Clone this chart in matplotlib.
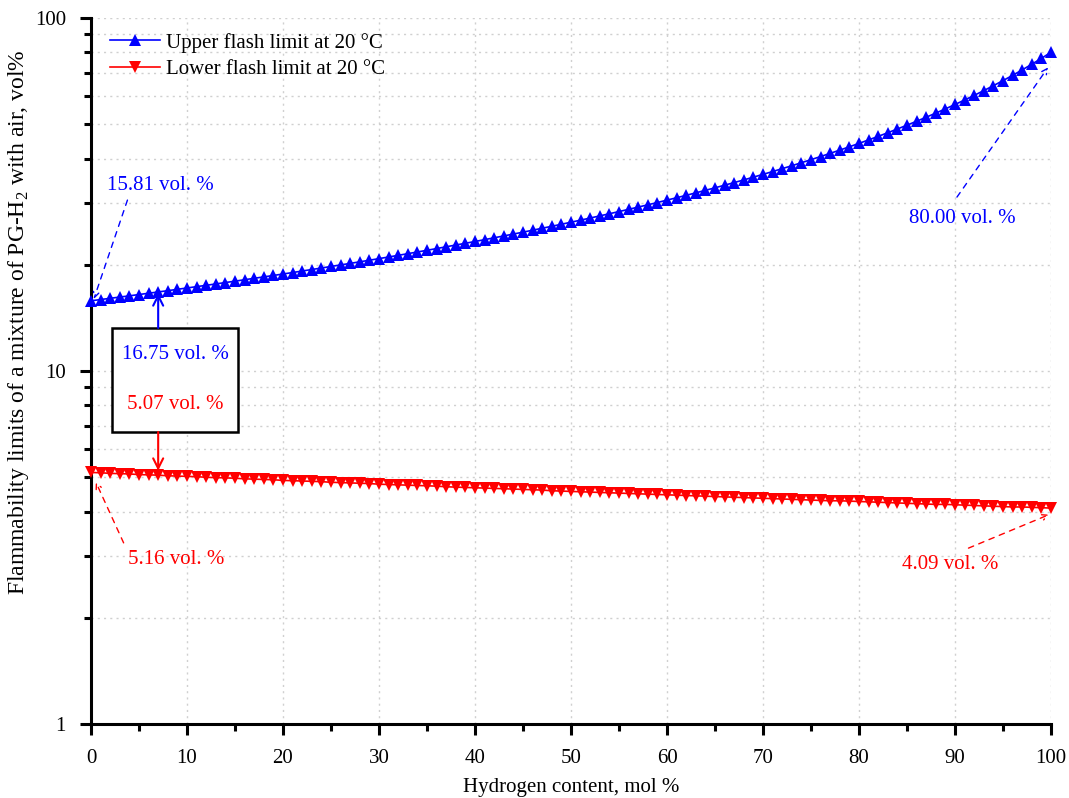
#!/usr/bin/env python3
"""Flammability limits of PG-H2 / air mixtures vs hydrogen content."""

import matplotlib
matplotlib.use('Agg')
import matplotlib.pyplot as plt
import matplotlib.patches as patches
from matplotlib.ticker import FixedLocator, FixedFormatter, MultipleLocator, NullFormatter

plt.rcParams['font.family'] = ['Liberation Serif', 'DejaVu Serif']
plt.rcParams['mathtext.fontset'] = 'custom'
plt.rcParams['mathtext.rm'] = 'Liberation Serif'

# hydrogen content, mol %
hydrogen = list(range(0, 101))

# upper flash limit at 20 °C, vol %
upper = [
    15.81, 15.94, 16.07, 16.20, 16.33, 16.47, 16.61, 16.75, 16.89, 17.04,
    17.19, 17.34, 17.49, 17.65, 17.81, 17.97, 18.14, 18.31, 18.48, 18.65,
    18.83, 19.01, 19.20, 19.39, 19.58, 19.78, 19.98, 20.18, 20.39, 20.60,
    20.82, 21.04, 21.27, 21.50, 21.74, 21.98, 22.23, 22.49, 22.75, 23.01,
    23.28, 23.56, 23.85, 24.14, 24.44, 24.74, 25.06, 25.38, 25.71, 26.05,
    26.40, 26.76, 27.13, 27.51, 27.90, 28.30, 28.71, 29.14, 29.57, 30.02,
    30.49, 30.97, 31.46, 31.97, 32.50, 33.04, 33.61, 34.19, 34.79, 35.42,
    36.07, 36.74, 37.44, 38.16, 38.92, 39.70, 40.52, 41.37, 42.26, 43.18,
    44.15, 45.16, 46.22, 47.33, 48.50, 49.72, 51.01, 52.36, 53.79, 55.30,
    56.90, 58.59, 60.39, 62.30, 64.33, 66.50, 68.82, 71.31, 73.99, 76.88,
    80.00,
]

# lower flash limit at 20 °C, vol %
lower = [
    5.16, 5.15, 5.13, 5.12, 5.11, 5.09, 5.08, 5.07, 5.05, 5.04,
    5.03, 5.02, 5.00, 4.99, 4.98, 4.97, 4.95, 4.94, 4.93, 4.92,
    4.90, 4.89, 4.88, 4.87, 4.86, 4.84, 4.83, 4.82, 4.81, 4.80,
    4.78, 4.77, 4.76, 4.75, 4.74, 4.73, 4.72, 4.70, 4.69, 4.68,
    4.67, 4.66, 4.65, 4.64, 4.63, 4.62, 4.61, 4.60, 4.58, 4.57,
    4.56, 4.55, 4.54, 4.53, 4.52, 4.51, 4.50, 4.49, 4.48, 4.47,
    4.46, 4.45, 4.44, 4.43, 4.42, 4.41, 4.40, 4.39, 4.38, 4.37,
    4.36, 4.35, 4.34, 4.33, 4.32, 4.31, 4.30, 4.29, 4.29, 4.28,
    4.27, 4.26, 4.25, 4.24, 4.23, 4.22, 4.21, 4.20, 4.19, 4.19,
    4.18, 4.17, 4.16, 4.15, 4.14, 4.13, 4.12, 4.12, 4.11, 4.10,
    4.09,
]

BLUE = '#0000ff'
RED = '#ff0000'
FS = 15

fig = plt.figure(figsize=(10.69, 7.98), dpi=100)
ax = fig.add_axes([0.0851, 0.0927, 0.8981, 0.8847])

ax.plot(hydrogen, upper, color=BLUE, lw=1.2, marker='^', ms=9, mew=0,
        label='Upper flash limit at 20 \u00b0C', clip_on=False, zorder=3)
ax.plot(hydrogen, lower, color=RED, lw=1.2, marker='v', ms=9, mew=0,
        label='Lower flash limit at 20 \u00b0C', clip_on=False, zorder=3)

ax.set_yscale('log')
ax.set_xlim(0, 100)
ax.set_ylim(1, 100)

ax.xaxis.set_major_locator(MultipleLocator(10))
ax.xaxis.set_minor_locator(MultipleLocator(5))
ax.yaxis.set_major_locator(FixedLocator([1, 10, 100]))
ax.yaxis.set_major_formatter(FixedFormatter(['1', '10', '100']))
minors = [m * d for d in (1, 10) for m in range(2, 10)]
ax.yaxis.set_minor_locator(FixedLocator(minors))
ax.yaxis.set_minor_formatter(NullFormatter())

ax.grid(True, which='major', axis='x', color='#d0d0d0', ls=(0, (1.5, 3)), lw=1)
ax.grid(True, which='both', axis='y', color='#d0d0d0', ls=(0, (1.5, 3)), lw=1)

for side in ('top', 'right'):
    ax.spines[side].set_visible(False)
for side in ('left', 'bottom'):
    ax.spines[side].set_linewidth(2.2)

ax.tick_params(which='major', direction='out', length=8, width=2.2, labelsize=FS)
ax.tick_params(axis='x', which='major', pad=10)
ax.tick_params(axis='y', which='major', pad=10)
ax.tick_params(which='minor', direction='out', length=5, width=2.2)

ax.set_xlabel('Hydrogen content, mol %', fontsize=FS, labelpad=7)
ax.set_ylabel('Flammability limits of a mixture of PG-H$_\\mathregular{2}$ with air, vol%',
              fontsize=17)
ax.yaxis.set_label_coords(-0.062, 0.569)

ax.legend(loc='upper left', bbox_to_anchor=(0.007, 0.997), frameon=False,
          fontsize=FS, handlelength=2.4, handletextpad=0.3, labelspacing=0.32,
          borderaxespad=0.2)

# dashed callouts at the ends of each curve
dashed_blue = dict(arrowstyle='->', color=BLUE, ls=(0, (4, 4)), lw=1, shrinkA=0, shrinkB=0)
dashed_red = dict(arrowstyle='->', color=RED, ls=(0, (4, 4)), lw=1, shrinkA=0, shrinkB=0)

ax.annotate('', xy=(0.3, 16.0), xytext=(3.8, 30.5), arrowprops=dashed_blue)
ax.text(7.2, 33.6, '15.81 vol. %', color=BLUE, fontsize=FS, ha='center', va='center')

ax.annotate('', xy=(99.7, 72.5), xytext=(90.2, 31.1), arrowprops=dashed_blue)
ax.text(90.8, 27.1, '80.00 vol. %', color=BLUE, fontsize=FS, ha='center', va='center')

ax.annotate('', xy=(0.5, 4.85), xytext=(3.4, 3.26), arrowprops=dashed_red)
ax.text(8.85, 2.92, '5.16 vol. %', color=RED, fontsize=FS, ha='center', va='center')

ax.annotate('', xy=(99.8, 3.92), xytext=(91.4, 3.15), arrowprops=dashed_red)
ax.text(89.5, 2.84, '4.09 vol. %', color=RED, fontsize=FS, ha='center', va='center')

# boxed values at 7 mol %
box = patches.Rectangle((2.19, 6.72), 15.3 - 2.19, 13.24 - 6.72, fill=True,
                        facecolor='white', edgecolor='black', lw=1.8, zorder=4)
ax.add_patch(box)
ax.text(8.75, 11.17, '16.75 vol. %', color=BLUE, fontsize=FS, ha='center', va='center', zorder=5)
ax.text(8.75, 8.05, '5.07 vol. %', color=RED, fontsize=FS, ha='center', va='center', zorder=5)

solid_blue = dict(arrowstyle='->', color=BLUE, lw=1.5, shrinkA=0, shrinkB=0, mutation_scale=18)
solid_red = dict(arrowstyle='->', color=RED, lw=1.5, shrinkA=0, shrinkB=0, mutation_scale=18)
ax.annotate('', xy=(7, 16.6), xytext=(7, 13.24), arrowprops=solid_blue, zorder=5)
ax.annotate('', xy=(7, 5.22), xytext=(7, 6.72), arrowprops=solid_red, zorder=5)

fig.savefig('out.png', dpi=100)
